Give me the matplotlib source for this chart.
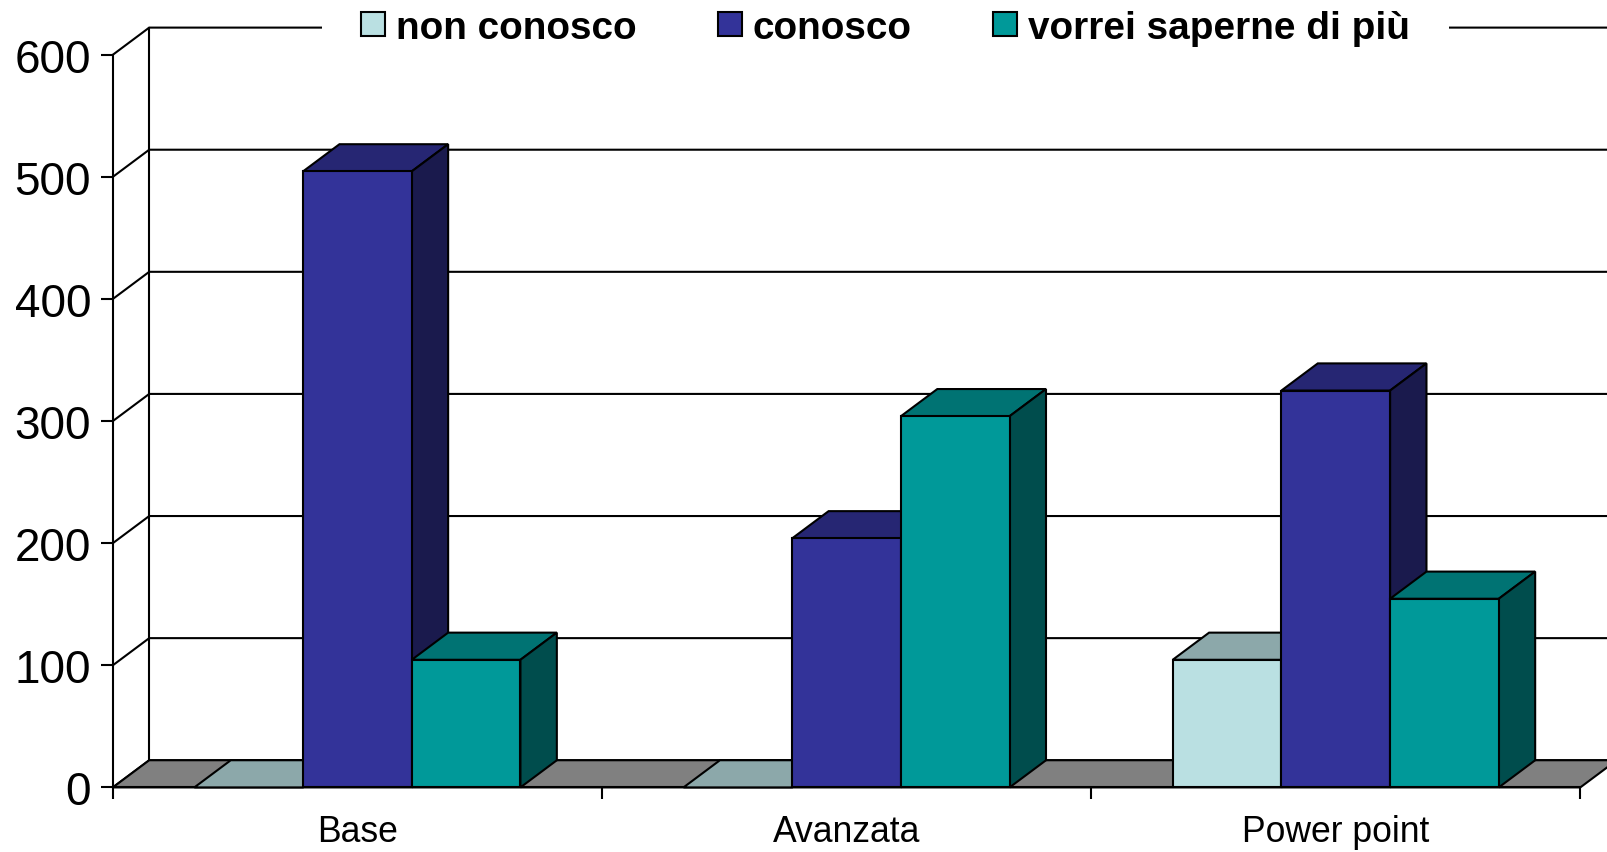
import matplotlib
matplotlib.use('Agg')
import matplotlib.pyplot as plt
from matplotlib.patches import Patch

plt.rcParams['font.family'] = ['Liberation Sans', 'DejaVu Sans']

# data
categories = ['Base', 'Avanzata', 'Power point']
series_names = ['non conosco', 'conosco', 'vorrei saperne di più']
non_conosco = [0, 0, 104.5]
conosco = [504.5, 204, 325]
vorrei = [104.5, 304, 154.5]
y_ticks = [0, 100, 200, 300, 400, 500, 600]

front_colors = ['#BAE0E2', '#333399', '#009999']
top_colors = ['#8CA8AA', '#262673', '#007373']
side_colors = ['#5D7071', '#1A1A4D', '#004D4D']
floor_color = '#808080'

lw = 1.5
bar_w = 0.2222
# depth of the fake 3d box, in data units
depth_x = 35.5 / 477
depth = 26.5 / 1.191

fig = plt.figure(figsize=(16.08, 8.53), dpi=100)
ax = fig.add_axes([110 / 1568, 1 - 769 / 832, (1541 - 110) / 1568, 714.6 / 832])
ax.set_xlim(-0.5, 2.5)
ax.set_ylim(0, 600)

for s in ['top', 'right']:
    ax.spines[s].set_visible(False)
for s in ['left', 'bottom']:
    ax.spines[s].set_linewidth(lw)

# ticks
ax.set_yticks(y_ticks)
ax.tick_params(axis='y', labelsize=33, length=8.6, width=lw, pad=7)
ax.set_xticks([-0.5, 0.5, 1.5, 2.5])
ax.set_xticklabels([])
ax.tick_params(axis='x', which='major', length=8.6, width=lw)
ax.set_xticks([0, 1, 2], minor=True)
ax.set_xticklabels(categories, minor=True)
ax.tick_params(axis='x', which='minor', length=0, labelsize=25.6, pad=19)

# back wall and grid
for v in y_ticks:
    ax.plot([-0.5, -0.5 + depth_x, 2.5 + depth_x], [v, v + depth, v + depth],
            color='black', lw=lw, clip_on=False, zorder=1, solid_joinstyle='miter')
ax.plot([-0.5 + depth_x, -0.5 + depth_x], [depth, 600 + depth],
        color='black', lw=lw, clip_on=False, zorder=1)

# floor
ax.fill([-0.5, -0.5 + depth_x, 2.5 + depth_x, 2.5],
        [0, depth, depth, 0],
        facecolor=floor_color, edgecolor='black', lw=lw, clip_on=False, zorder=2)

# bars, left to right so the nearer ones cover the sides
all_series = [non_conosco, conosco, vorrei]
z = 3
for c in range(len(categories)):
    for i, values in enumerate(all_series):
        h = values[c]
        x0 = c + (i - 1.5) * bar_w
        x1 = x0 + bar_w
        ax.fill([x0, x0 + depth_x, x1 + depth_x, x1], [h, h + depth, h + depth, h],
                facecolor=top_colors[i], edgecolor='black', lw=lw, clip_on=False, zorder=z)
        if h > 0:
            ax.fill([x1, x1 + depth_x, x1 + depth_x, x1], [0, depth, h + depth, h],
                    facecolor=side_colors[i], edgecolor='black', lw=lw, clip_on=False, zorder=z)
            ax.bar(x0, h, width=bar_w, align='edge', color=front_colors[i],
                   edgecolor='black', lw=lw, zorder=z + 0.5)
        z += 1

# legend sits on the top line with a white box
handles = [Patch(facecolor=front_colors[i], edgecolor='black', lw=lw, label=series_names[i])
           for i in range(3)]
leg = fig.legend(handles=handles, ncol=3, loc='center',
                 bbox_to_anchor=(863.5 / 1568, 1 - 28 / 832), bbox_transform=fig.transFigure,
                 prop={'weight': 'bold', 'size': 27.9},
                 handlelength=0.61, handleheight=0.61, handletextpad=0.29,
                 columnspacing=2.1, borderpad=1.0, frameon=True,
                 fancybox=False, facecolor='white', edgecolor='none', framealpha=1)
leg.set_zorder(100)

fig.savefig('out.png', dpi=100)
